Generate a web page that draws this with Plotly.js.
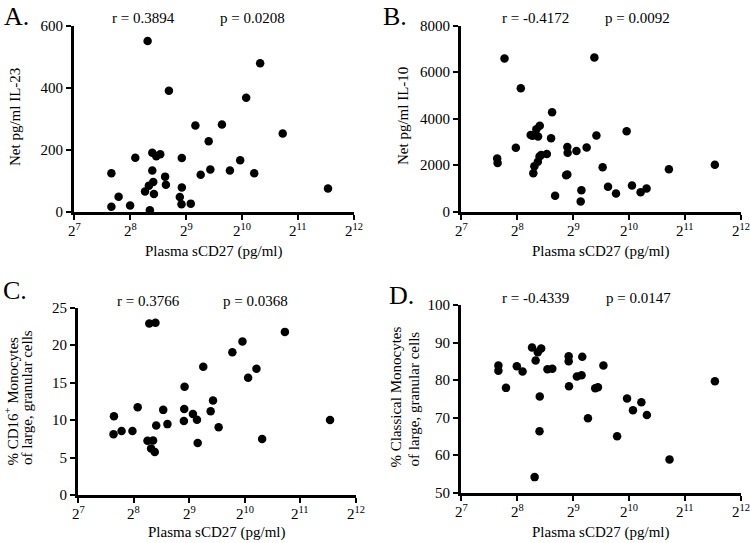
<!DOCTYPE html>
<html>
<head>
<meta charset="utf-8">
<script src="https://cdn.plot.ly/plotly-3.0.1.min.js"></script>
<style>html,body{margin:0;padding:0;background:#fff;}#chart{width:750px;height:543px;}</style>
</head>
<body>
<div id="chart"></div>
<script>
// Plasma sCD27 (pg/ml) and responses
const xTickVals = [128, 256, 512, 1024, 2048, 4096];
const xTickText = ['2<sup>7</sup>', '2<sup>8</sup>', '2<sup>9</sup>', '2<sup>10</sup>', '2<sup>11</sup>', '2<sup>12</sup>'];

const il23X = [318, 1283, 414, 1079, 575, 799, 1697, 678, 337, 372, 354, 273, 486, 1002, 203, 614, 692, 882, 1192, 337, 395, 399, 341, 323, 308, 344, 486, 474, 484, 543, 222, 256, 203, 327, 2975];
const il23Y = [550, 478, 390, 367, 278, 281, 252, 227, 190, 185, 179, 174, 173, 166, 124, 119, 136, 133, 124, 133, 113, 87, 96, 84, 65, 57, 78, 47, 24, 26, 48, 20, 16, 5, 75];

const il10X = [219, 667, 268, 395, 995, 339, 325, 303, 310, 332, 684, 390, 252, 477, 606, 479, 534, 370, 345, 338, 331, 317, 200, 201, 739, 1680, 2969, 313, 477, 470, 790, 1063, 872, 1183, 1274, 568, 410, 563];
const il10Y = [6580, 6630, 5300, 4270, 3460, 3690, 3545, 3300, 3260, 3230, 3275, 3160, 2750, 2775, 2760, 2535, 2605, 2480, 2435, 2375, 2150, 1950, 2290, 2095, 1905, 1820, 2020, 1650, 1595, 1565, 1070, 1125, 785, 840, 1000, 925, 685, 440];

const cd16X = [311, 336, 1690, 995, 877, 610, 1185, 1068, 483, 689, 269, 370, 481, 669, 536, 200, 564, 2969, 479, 390, 339, 739, 199, 220, 252, 304, 326, 1272, 569, 318, 333];
const cd16Y = [22.88, 22.97, 21.75, 20.48, 19.03, 17.09, 16.82, 15.64, 14.42, 12.61, 11.71, 11.35, 11.48, 11.17, 10.81, 10.49, 10.04, 9.99, 9.86, 9.45, 9.27, 9.04, 8.09, 8.54, 8.54, 7.23, 7.28, 7.46, 6.92, 6.19, 5.74];

const classX = [308, 345, 331, 322, 485, 485, 574, 203, 203, 255, 274, 746, 373, 396, 537, 569, 223, 487, 674, 697, 2971, 339, 1000, 1194, 1076, 1279, 616, 884, 338, 1693, 318];
const classY = [88.68, 88.41, 87.43, 85.20, 86.36, 85.03, 86.19, 83.87, 82.44, 83.69, 82.26, 83.87, 82.89, 82.98, 80.93, 81.28, 77.90, 78.34, 77.81, 78.07, 79.68, 75.58, 75.04, 74.06, 71.93, 70.68, 69.79, 64.97, 66.31, 58.82, 54.10];

const panelLabels = ['A.', 'B.', 'C.', 'D.'];
const rTexts = ['r = 0.3894', 'r = -0.4172', 'r = 0.3766', 'r = -0.4339'];
const pTexts = ['p = 0.0208', 'p = 0.0092', 'p = 0.0368', 'p = 0.0147'];
const xTitle = 'Plasma sCD27 (pg/ml)';

const FONT = '"Liberation Serif", "Times New Roman", Times, serif';
const W = 750, H = 543;
const px = v => v / W;
const py = v => 1 - v / H;

const marker = {color: '#000', size: 8.5};
const traces = [
  {x: il23X, y: il23Y, xaxis: 'x', yaxis: 'y'},
  {x: il10X, y: il10Y, xaxis: 'x2', yaxis: 'y2'},
  {x: cd16X, y: cd16Y, xaxis: 'x3', yaxis: 'y3'},
  {x: classX, y: classY, xaxis: 'x4', yaxis: 'y4'}
].map(t => Object.assign(t, {type: 'scatter', mode: 'markers', marker: marker, cliponaxis: false, showlegend: false, hoverinfo: 'x+y'}));

const EPS = 1e-3;
function xa(d0, d1, anchor) {
  return {
    type: 'log', domain: [px(d0), px(d1)], anchor: anchor,
    range: [Math.log10(128) - EPS, Math.log10(4096) + EPS],
    tickvals: xTickVals, showticklabels: false,
    showline: true, linewidth: 3, linecolor: '#000',
    ticks: 'outside', ticklen: 5, tickwidth: 2, tickcolor: '#000',
    showgrid: false, zeroline: false
  };
}
function ya(top, bot, range, dtick, anchor) {
  return {
    domain: [py(bot), py(top)], anchor: anchor, range: range, dtick: dtick,
    showline: true, linewidth: 3, linecolor: '#000',
    ticks: 'outside', ticklen: 5, tickwidth: 2, tickcolor: '#000',
    showgrid: false, zeroline: false,
    tickfont: {family: FONT, size: 15, color: '#000'}
  };
}

const ann = [];
function addText(text, x, y, size, opts) {
  ann.push(Object.assign({
    text: text, x: px(x), y: py(y), xref: 'paper', yref: 'paper',
    showarrow: false, xanchor: 'center', yanchor: 'middle',
    font: {family: FONT, size: size, color: '#000'}
  }, opts || {}));
}
// x tick labels (2^n), placed through each subplot's own log x scale
const xAxisIds = ['x', 'x2', 'x3', 'x4'];
const xAxisBottoms = [211.7, 211.7, 495, 492.5];
xAxisIds.forEach((id, k) => {
  xTickVals.forEach((v, i) => {
    ann.push({
      text: xTickText[i], xref: id, x: Math.log10(v), yref: 'paper', y: py(xAxisBottoms[k]),
      yshift: -18, showarrow: false, xanchor: 'center', yanchor: 'middle',
      font: {family: FONT, size: 15, color: '#000'}
    });
  });
});
// panel labels
addText(panelLabels[0], 2, 0, 26, {xanchor: 'left', yanchor: 'top'});
addText(panelLabels[1], 381, 0, 26, {xanchor: 'left', yanchor: 'top'});
addText(panelLabels[2], 1, 274, 26, {xanchor: 'left', yanchor: 'top'});
addText(panelLabels[3], 387, 279, 26, {xanchor: 'left', yanchor: 'top'});
// r and p
addText(rTexts[0], 143.5, 18, 15); addText(pTexts[0], 252, 18, 15);
addText(rTexts[1], 535.5, 18, 15); addText(pTexts[1], 637.5, 18, 15);
addText(rTexts[2], 148, 301, 15); addText(pTexts[2], 255, 301, 15);
addText(rTexts[3], 535.5, 298, 15); addText(pTexts[3], 638, 298, 15);
// x titles
addText(xTitle, 214, 252, 15);
addText(xTitle, 601, 252, 15);
addText(xTitle, 217, 532, 15);
addText(xTitle, 601, 532, 15);
// y titles
addText('Net pg/ml IL-23', 15, 117, 15, {textangle: -90});
addText('Net pg/ml IL-10', 403, 116, 15, {textangle: -90});
addText('% CD16<sup>+</sup> Monocytes', 11.5, 401, 15, {textangle: -90});
addText('of large, granular cells', 27, 398, 15, {textangle: -90});
addText('% Classical Monocytes', 395.5, 397, 15, {textangle: -90});
addText('of large, granular cells', 413.5, 399, 15, {textangle: -90});

const layout = {
  width: W, height: H,
  margin: {l: 0, r: 0, t: 0, b: 0},
  paper_bgcolor: '#fff', plot_bgcolor: '#fff',
  font: {family: FONT, size: 15, color: '#000'},
  showlegend: false,
  xaxis: xa(74, 354, 'y'),
  yaxis: ya(25.5, 211.7, [0, 600], 200, 'x'),
  xaxis2: xa(461, 741, 'y2'),
  yaxis2: ya(25.5, 211.7, [0, 8000], 2000, 'x2'),
  xaxis3: xa(78, 356, 'y3'),
  yaxis3: ya(307.5, 495, [0, 25], 5, 'x3'),
  xaxis4: xa(461, 741, 'y4'),
  yaxis4: ya(305, 492.5, [50, 100], 10, 'x4'),
  annotations: ann
};

Plotly.newPlot('chart', traces, layout, {staticPlot: true, displayModeBar: false});
</script>
</body>
</html>
